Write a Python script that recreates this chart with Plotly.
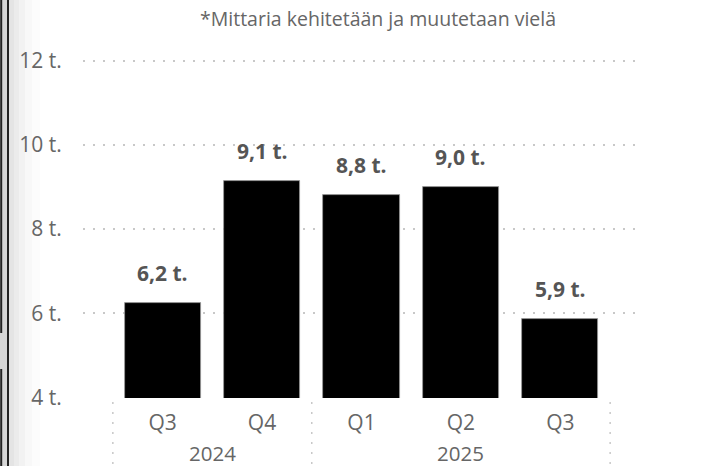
import plotly.graph_objects as go

# ---- data ----
years = ["2024", "2024", "2025", "2025", "2025"]
quarters = ["Q3", "Q4", "Q1", "Q2", "Q3"]
values = [6.24, 9.14, 8.82, 9.01, 5.87]
ytick_vals = [4, 6, 8, 10, 12]
ytick_text = ["4 t.", "6 t.", "8 t.", "10 t.", "12 t."]
title_text = "*Mittaria kehitetään ja muutetaan vielä"

W, H = 718, 466
ML, MR, MT, MB = 83, 81, 48, 68
PW, PH = W - ML - MR, H - MT - MB

FONT = "Open Sans, Noto Sans, sans-serif"
TICK_COL = "#666666"
LABEL_COL = "#555555"
GRID_COL = "#c8c8c8"

xs = list(range(len(values)))


def px_x(p):
    return (p - ML) / PW


def px_y(p):
    return (H - MB - p) / PH


fig = go.Figure()
fig.add_trace(go.Bar(
    x=xs, y=values, width=0.765,
    marker=dict(color="#000000", line=dict(color="#9a9a9a", width=0.8)),
    hoverinfo="skip",
))

annotations = []
# data labels
for x, v in zip(xs, values):
    annotations.append(dict(
        x=x, y=v, xref="x", yref="y", text=f"{v:.1f}".replace(".", ",") + " t.",
        showarrow=False, yanchor="bottom", yshift=14,
        font=dict(family=FONT, size=21, color=LABEL_COL, weight="bold"),
    ))

# year group labels
groups = []
for i, y in enumerate(years):
    if groups and groups[-1][0] == y:
        groups[-1][2] = i
    else:
        groups.append([y, i, i])
for y, a, b in groups:
    annotations.append(dict(
        x=(a + b) / 2, y=px_y(453), xref="x", yref="paper", text=y,
        showarrow=False, yanchor="middle",
        font=dict(family=FONT, size=20.5, color=TICK_COL),
    ))

# title
annotations.append(dict(
    x=px_x(378), y=px_y(18), xref="paper", yref="paper", text=title_text,
    showarrow=False, xanchor="center", yanchor="middle",
    font=dict(family=FONT, size=19.5, color=TICK_COL),
))

shapes = []
# group separators
bounds = [groups[0][1] - 0.5] + [g[2] + 0.5 for g in groups]
for b in bounds:
    shapes.append(dict(type="line", xref="x", yref="paper", x0=b, x1=b,
                       y0=px_y(402), y1=px_y(466),
                       line=dict(color=GRID_COL, width=1.5, dash="2px,8px")))

# left frame decoration
shapes.append(dict(type="rect", xref="paper", yref="paper", x0=px_x(0), x1=px_x(9),
                   y0=px_y(466), y1=px_y(0), line=dict(width=0), fillcolor="#d6d6d6", layer="below"))
for a, b, c in [(9, 14, "#e4e4e4"), (14, 19, "#ebebeb"), (19, 25, "#f2f2f2"), (25, 32, "#f8f8f8"), (32, 40, "#fcfcfc")]:
    shapes.append(dict(type="rect", xref="paper", yref="paper", x0=px_x(a), x1=px_x(b),
                       y0=px_y(466), y1=px_y(0), line=dict(width=0), fillcolor=c, layer="below"))
for y0, y1 in [(0, 333), (369, 466)]:
    shapes.append(dict(type="line", xref="paper", yref="paper", x0=px_x(1.2), x1=px_x(1.2),
                       y0=px_y(y0), y1=px_y(y1), line=dict(color="#222222", width=2)))
shapes.append(dict(type="line", xref="paper", yref="paper", x0=px_x(8), x1=px_x(8),
                   y0=px_y(0), y1=px_y(466), line=dict(color="#222222", width=2)))

fig.update_layout(
    width=W, height=H,
    margin=dict(l=ML, r=MR, t=MT, b=MB),
    paper_bgcolor="white", plot_bgcolor="white",
    showlegend=False,
    bargap=0,
    annotations=annotations,
    shapes=shapes,
    font=dict(family=FONT, color=TICK_COL),
)
fig.update_xaxes(
    range=[-0.8, 4.77], tickvals=xs, ticktext=quarters,
    showgrid=False, zeroline=False, showline=False,
    ticks="outside", ticklen=6, tickcolor="rgba(0,0,0,0)",
    tickfont=dict(family=FONT, size=21, color=TICK_COL),
    fixedrange=True,
)
fig.update_yaxes(
    range=[3.99, 12.3], tickvals=ytick_vals, ticktext=ytick_text,
    showgrid=True, gridcolor=GRID_COL, gridwidth=1.5, griddash="2px,8px",
    zeroline=False, showline=False,
    ticks="outside", ticklen=16, tickcolor="rgba(0,0,0,0)",
    tickfont=dict(family=FONT, size=21, color=TICK_COL),
    fixedrange=True,
)

fig.write_html(
    "out.html",
    config={"displayModeBar": False},
    post_script="document.body.style.margin='0';document.body.style.overflow='hidden';",
)
